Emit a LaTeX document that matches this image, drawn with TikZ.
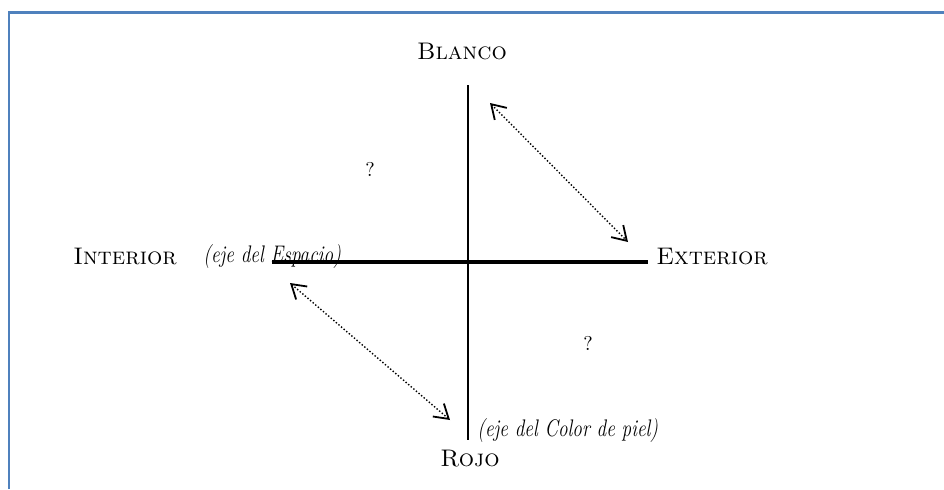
\documentclass[tikz,border=0pt]{standalone}
\usepackage{tikz}
\usepackage{xcolor}
\usetikzlibrary{arrows.meta,positioning}
\definecolor{frameblue}{RGB}{79,129,189}

\begin{document}
\begin{tikzpicture}[x=0.5pt,y=-0.5pt,>={Straight Barb[length=2.4mm,width=3mm,line width=0.9pt]}]
  \useasboundingbox (0,0) rectangle (944,489);
  \draw[frameblue,line width=1.2pt] (9,489)--(9,12.5)--(944,12.5);
  % ejes
  \coordinate (top) at (468,85);
  \coordinate (bottom) at (468,440);
  \coordinate (left) at (272,262);
  \coordinate (right) at (648,262);
  \draw[line width=1.3pt] (top)--(bottom);
  \draw[line width=2pt] (left)--(right);
  \node (blanco) at (462,51) {\large\textsc{Blanco}};
  \node (rojo) at (470,459) {\large\textsc{Rojo}};
  \node (interior) at (125,256) {\large\textsc{Interior}};
  \node (exterior) at (712,256) {\large\textsc{Exterior}};
  \node[anchor=west,inner sep=0pt] (eesp) at (203,257) {\scalebox{0.8}[1]{\large\itshape (eje del Espacio)}};
  \node[anchor=west,inner sep=0pt] (ecol) at (477,431) {\scalebox{0.8}[1]{\large\itshape (eje del Color de piel)}};
  \node (q1) at (370,169) {?};
  \node (q2) at (588,343) {?};
  % flechas
  \coordinate (a1) at (490,103);
  \coordinate (b1) at (628,242);
  \coordinate (a2) at (290,283);
  \coordinate (b2) at (450,420);
  \draw[<->,densely dotted,line width=0.7pt] (a1)--(b1);
  \draw[<->,densely dotted,line width=0.7pt] (a2)--(b2);
\end{tikzpicture}
\end{document}
